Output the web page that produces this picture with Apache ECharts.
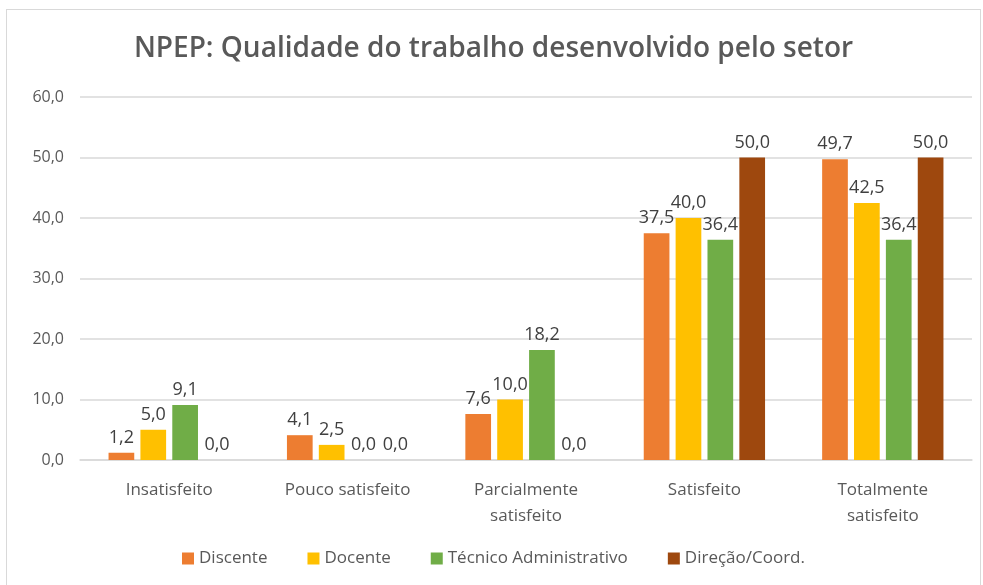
<!DOCTYPE html>
<html>
<head>
<meta charset="utf-8">
<script src="https://cdn.jsdelivr.net/npm/echarts@6/dist/echarts.min.js"></script>
<style>
  html, body { margin: 0; padding: 0; background: #fff; }
  #chart { position: absolute; left: 6px; top: 9px; width: 975px; height: 580px;
           border: 1px solid #d9d9d9; border-bottom: none; box-sizing: border-box; }
</style>
</head>
<body>
<div id="chart"></div>
<script>
var categories = ['Insatisfeito', 'Pouco satisfeito', 'Parcialmente\nsatisfeito', 'Satisfeito', 'Totalmente\nsatisfeito'];
var seriesNames = ['Discente', 'Docente', 'Técnico Administrativo', 'Direção/Coord.'];
var discente = [1.2, 4.1, 7.6, 37.5, 49.7];
var docente = [5.0, 2.5, 10.0, 40.0, 42.5];
var tecnico = [9.1, 0.0, 18.2, 36.4, 36.4];
var direcao = [0.0, 0.0, 0.0, 50.0, 50.0];
var colors = ['#ED7D31', '#FFC000', '#70AD47', '#9E480E'];

var dom = document.getElementById("chart");
var myChart = echarts.init(dom);

function fmt(v) {
  return v.toFixed(1).replace('.', ',');
}

var font = "'Open Sans', 'Noto Sans', sans-serif";
var allData = [discente, docente, tecnico, direcao];

var option = {
  animation: false,
  color: colors,
  textStyle: { fontFamily: font },
  title: {
    text: 'NPEP: Qualidade do trabalho desenvolvido pelo setor',
    left: 'center',
    top: 20,
    textStyle: { fontFamily: font, fontSize: 28, fontWeight: 600, color: '#595959' }
  },
  legend: {
    bottom: 17,
    left: 'center',
    itemWidth: 12,
    itemHeight: 12,
    itemGap: 40,
    icon: 'rect',
    textStyle: { fontSize: 17, color: '#595959', fontFamily: font }
  },
  grid: { left: 73, right: 8, top: 87, bottom: 129 },
  xAxis: {
    type: 'category',
    data: categories,
    axisTick: { show: false },
    axisLine: { lineStyle: { color: '#d9d9d9', width: 1.5 } },
    axisLabel: { fontSize: 17, color: '#595959', margin: 17, lineHeight: 26, interval: 0 }
  },
  yAxis: {
    type: 'value',
    min: 0,
    max: 60,
    interval: 10,
    axisLabel: { fontSize: 16, color: '#595959', margin: 16, formatter: function (v) { return fmt(v); } },
    splitLine: { lineStyle: { color: '#d9d9d9', width: 1.5 } }
  },
  series: seriesNames.map(function (name, i) {
    return {
      name: name,
      type: 'bar',
      data: allData[i],
      barGap: '24%',
      barCategoryGap: '32%',
      label: {
        show: true,
        position: 'top',
        distance: 6,
        fontSize: 18,
        color: '#404040',
        formatter: function (p) { return fmt(p.value); }
      }
    };
  })
};

if (option && typeof option === "object") {
  myChart.setOption(option, true);
}
</script>
</body>
</html>
